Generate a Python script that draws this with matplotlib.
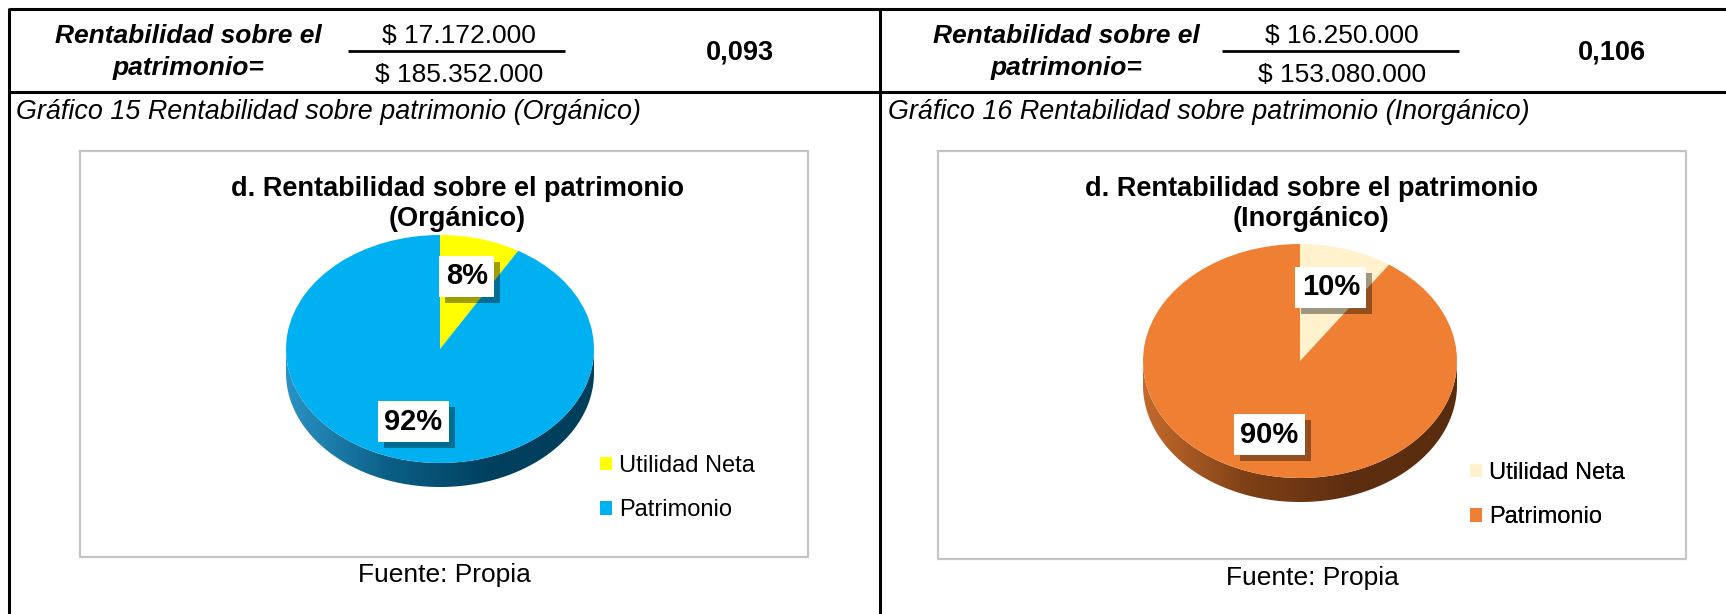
import numpy as np
import matplotlib
matplotlib.use("Agg")
import matplotlib.pyplot as plt
from matplotlib.patches import Polygon
from matplotlib.colors import LinearSegmentedColormap
from matplotlib.transforms import offset_copy

plt.rcParams['font.family'] = ['Liberation Sans', 'DejaVu Sans']

# ---------------- data ----------------
categories = ['Utilidad Neta', 'Patrimonio']
organico = [17172000, 185352000]
inorganico = [16250000, 153080000]
chart_titles = ['d. Rentabilidad sobre el patrimonio\n(Orgánico)',
                'd. Rentabilidad sobre el patrimonio\n(Inorgánico)']
captions = ['Gráfico 15 Rentabilidad sobre patrimonio (Orgánico)',
            'Gráfico 16 Rentabilidad sobre patrimonio (Inorgánico)']
source = 'Fuente: Propia'
formula_label = 'Rentabilidad sobre el\npatrimonio='
colors_org = ['#FFFF00', '#00B0F0']
colors_inorg = ['#FFF2CC', '#EF7F33']

W, H = 1726, 614
fig = plt.figure(figsize=(W / 100, H / 100), dpi=100)
bg = fig.add_axes([0, 0, 1, 1])
bg.set_xlim(0, W)
bg.set_ylim(H, 0)
bg.axis('off')


def money(v):
    return '$ ' + f'{v:,}'.replace(',', '.')


def ratio(vals):
    return f'{vals[0] / vals[1]:.3f}'.replace('.', ',')


FS = 19
# ---------------- table lines ----------------
lw = 2.2
bg.plot([9, W], [9, 9], color='black', lw=lw, solid_capstyle='butt')
bg.plot([9, W], [92, 92], color='black', lw=lw, solid_capstyle='butt')
bg.plot([9, 9], [8, H], color='black', lw=lw, solid_capstyle='butt')
bg.plot([880, 880], [8, H], color='black', lw=lw, solid_capstyle='butt')

# ---------------- top row ----------------
rows = [
    dict(vals=organico, lab_x=188, num_x=459, line=(348, 565), res_x=740),
    dict(vals=inorganico, lab_x=1066, num_x=1342, line=(1222, 1459), res_x=1612),
]
for r in rows:
    bg.text(r['lab_x'], 52, formula_label, ha='center', va='center', fontsize=FS,
            fontweight='bold', fontstyle='italic', linespacing=1.4)
    bg.text(r['num_x'], 36, money(r['vals'][0]), ha='center', va='center', fontsize=FS)
    bg.text(r['num_x'], 75, money(r['vals'][1]), ha='center', va='center', fontsize=FS)
    bg.plot(list(r['line']), [51, 51], color='black', lw=2.0, solid_capstyle='butt')
    bg.text(r['res_x'], 53, ratio(r['vals']), ha='center', va='center', fontsize=FS + 0.5,
            fontweight='bold')

bg.text(16, 112, captions[0], ha='left', va='center', fontsize=FS + 0.4, fontstyle='italic')
bg.text(888, 112, captions[1], ha='left', va='center', fontsize=FS + 0.4, fontstyle='italic')

# ---------------- chart boxes ----------------
boxes = [(80, 151, 808, 557), (938, 151, 1686, 559)]
for (x0, y0, x1, y1) in boxes:
    bg.plot([x0, x1, x1, x0, x0], [y0, y0, y1, y1, y0], color='#C4C4C4', lw=1.6)


def make_pie(cx, cy, rx, ry, depth, values, colors, side_cols, title_x, leg_xy, src_xy, title):
    d = depth / ry
    ax = fig.add_axes([(cx - rx) / W, 1 - (cy + ry + depth) / H,
                       2 * rx / W, (2 * ry + depth) / H])
    wedges, _, autotexts = ax.pie(values, colors=colors, startangle=90, counterclock=False,
                                  radius=1.0, autopct=lambda p: f'{p:.0f}%',
                                  pctdistance=0.66,
                                  wedgeprops=dict(linewidth=0, zorder=3))
    ax.set_aspect('auto')
    ax.axis('off')
    # side of the 3D pie
    t = np.linspace(np.pi, 2 * np.pi, 300)
    xs = np.concatenate([np.cos(t), np.cos(t[::-1])])
    ys = np.concatenate([np.sin(t), np.sin(t[::-1]) - d])
    side = Polygon(np.column_stack([xs, ys]), closed=True, facecolor='none', edgecolor='none')
    ax.add_patch(side)
    cmap = LinearSegmentedColormap.from_list('side', side_cols)
    grad = np.linspace(0, 1, 256)[None, :]
    im = ax.imshow(grad, extent=(-1, 1, -1 - d, 0), aspect='auto', cmap=cmap, zorder=1)
    im.set_clip_path(side)
    ax.set_xlim(-1, 1)
    ax.set_ylim(-1 - d, 1)
    # labels with shadow
    sh_tr = offset_copy(ax.transData, fig=fig, x=6, y=-6, units='dots')
    for at in autotexts:
        at.set_fontsize(21)
        at.set_fontweight('bold')
        at.set_zorder(6)
        at.set_bbox(dict(boxstyle='square,pad=0.22', fc='white', ec='none'))
        x, y = at.get_position()
        ax.text(x, y, at.get_text(), transform=sh_tr, ha='center', va='center',
                fontsize=21, fontweight='bold', color='none', zorder=5,
                bbox=dict(boxstyle='square,pad=0.22', fc='black', ec='none', alpha=0.38))
    # legend
    bg.legend(wedges, categories, loc='upper left', bbox_to_anchor=leg_xy,
              bbox_transform=bg.transData, frameon=False, fontsize=17,
              handlelength=0.5, handleheight=0.5, handletextpad=0.3,
              labelspacing=0.95, borderpad=0, borderaxespad=0)
    bg.add_artist(bg.get_legend())
    bg.text(title_x, 204, title, ha='center', va='center', fontsize=FS + 0.5,
            fontweight='bold', linespacing=1.25)
    bg.text(src_xy[0], src_xy[1], source, ha='center', va='center', fontsize=FS)


make_pie(440, 349, 154, 114, 24, organico, colors_org,
         ['#2A93C4', '#0B5F86', '#00405E', '#003F5C'],
         457, (600, 455), (444, 575), chart_titles[0])
make_pie(1300, 361, 157, 117, 24, inorganico, colors_inorg,
         ['#C46A2C', '#7E4016', '#5E2E10', '#5A2C0E'],
         1311, (1470, 462), (1312, 578), chart_titles[1])

fig.savefig('out.png', dpi=100)
